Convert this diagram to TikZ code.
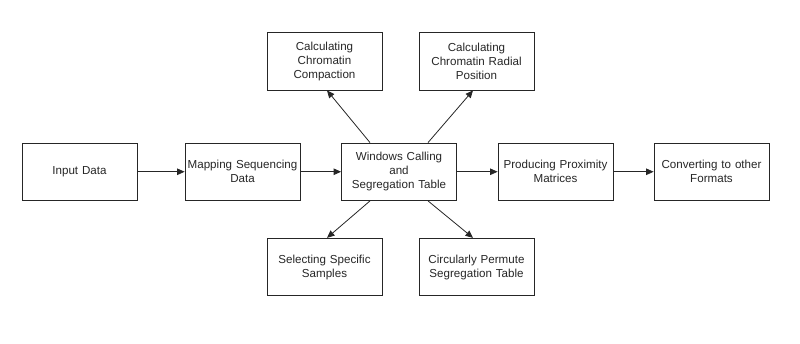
\documentclass[tikz,border=0pt]{standalone}
\usepackage{fontspec}
\setmainfont{Liberation Sans}
\usetikzlibrary{arrows.meta}
\begin{document}
\begin{tikzpicture}[x=1pt,y=-1pt,
  box/.style={draw=black!85, line width=0.8pt, minimum width=115pt, minimum height=57.5pt,
    text width=114pt, align=center, inner sep=0pt, font=\fontsize{11.6}{14}\selectfont, text=black!85},
  arr/.style={draw=black!85, line width=0.8pt, -{Triangle[width=6.5pt,length=7.5pt]}}]
\useasboundingbox (0,0) rectangle (800,343);
\node[box] (input) at (79.5,171.75) {Input Data};
\node[box] (map) at (242.5,171.75) {Mapping Sequencing\\Data};
\node[box] (win) at (399,171.75) {Windows Calling\\and\\Segregation Table};
\node[box] (prox) at (555.5,171.75) {Producing Proximity\\Matrices};
\node[box] (conv) at (711.5,171.75) {Converting to other\\Formats};
\node[box] (comp) at (324.5,61.25) {Calculating\\Chromatin\\Compaction};
\node[box] (rad) at (476.5,61.25) {Calculating\\Chromatin Radial\\Position};
\node[box] (sel) at (324.5,267) {Selecting Specific\\Samples};
\node[box] (circ) at (476.5,267) {Circularly Permute\\Segregation Table};
\draw[arr] (input) -- (map);
\draw[arr] (map) -- (win);
\draw[arr] (win) -- (prox);
\draw[arr] (prox) -- (conv);
\draw[arr] ([xshift=-29pt]win.north) -- ([xshift=2.5pt]comp.south);
\draw[arr] ([xshift=29pt]win.north) -- ([xshift=-3.5pt]rad.south);
\draw[arr] ([xshift=-29pt]win.south) -- ([xshift=2.5pt]sel.north);
\draw[arr] ([xshift=29pt]win.south) -- ([xshift=-3.5pt]circ.north);
\end{tikzpicture}
\end{document}
